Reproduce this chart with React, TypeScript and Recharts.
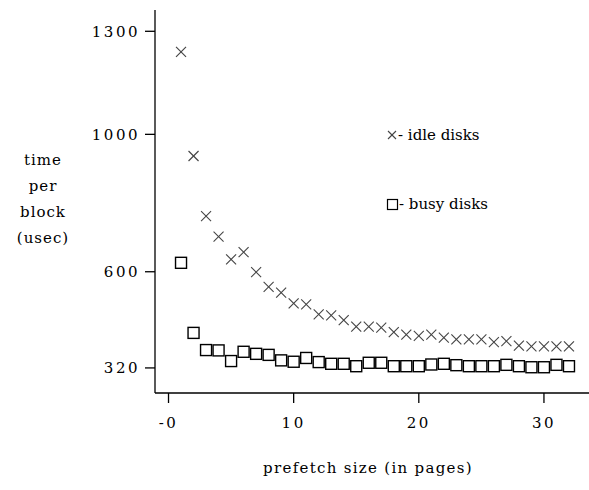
import React from "react";
import { Scatter, ScatterChart, XAxis, YAxis } from "recharts";

const prefetchPages = [
  1, 2, 3, 4, 5, 6, 7, 8, 9, 10, 11, 12, 13, 14, 15, 16, 17, 18, 19, 20, 21,
  22, 23, 24, 25, 26, 27, 28, 29, 30, 31, 32,
];
const idleDisks = [
  1240, 937, 762, 702, 636, 657, 599, 556, 539, 508, 505, 476, 473, 459, 440,
  440, 437, 424, 417, 413, 417, 408, 403, 403, 403, 395, 398, 385, 383, 383,
  383, 383,
];
const busyDisks = [
  626, 422, 372, 371, 340, 367, 361, 358, 342, 338, 349, 337, 332, 332, 325,
  335, 335, 325, 325, 325, 330, 332, 328, 325, 325, 325, 329, 325, 322, 322,
  329, 325,
];
const xTicks = [0, 10, 20, 30];
const yTicks = [320, 600, 1000, 1300];

const idleData = prefetchPages.map((x, i) => ({ x, y: idleDisks[i] }));
const busyData = prefetchPages.map((x, i) => ({ x, y: busyDisks[i] }));

const FONT = "DejaVu Serif";

const Cross = ({ cx, cy }: any) => (
  <g stroke="#444" strokeWidth={1.1}>
    <line x1={cx - 5} y1={cy - 5} x2={cx + 5} y2={cy + 5} />
    <line x1={cx - 5} y1={cy + 5} x2={cx + 5} y2={cy - 5} />
  </g>
);

const Box = ({ cx, cy }: any) => (
  <rect
    x={cx - 5.5}
    y={cy - 5.5}
    width={11}
    height={11}
    fill="#fff"
    stroke="#000"
    strokeWidth={1.4}
  />
);

const YLabel = () => (
  <text
    fontFamily={FONT}
    fontSize={15}
    letterSpacing={1}
    textAnchor="middle"
    fill="#000"
  >
    <tspan x={43} y={165}>time</tspan>
    <tspan x={43} y={191}>per</tspan>
    <tspan x={43} y={217}>block</tspan>
    <tspan x={43} y={243}>(usec)</tspan>
  </text>
);

const XLabel = () => (
  <text
    x={368}
    y={473}
    fontFamily={FONT}
    fontSize={15}
    letterSpacing={1.3}
    textAnchor="middle"
    fill="#000"
  >
    prefetch size (in pages)
  </text>
);

// legend drawn over the plot, not through <Legend> (it would eat plot height)
const LegendBox = () => (
  <div
    style={{
      position: "absolute",
      left: 386,
      top: 125,
      fontFamily: FONT,
      fontSize: 15,
      letterSpacing: 0,
      lineHeight: "20px",
    }}
  >
    <div style={{ display: "flex", alignItems: "center", height: 20 }}>
      <svg width={12} height={12}>
        <g stroke="#444" strokeWidth={1.1}>
          <line x1={2} y1={2} x2={10} y2={10} />
          <line x1={2} y1={10} x2={10} y2={2} />
        </g>
      </svg>
      <span>- idle disks</span>
    </div>
    <div
      style={{ display: "flex", alignItems: "center", height: 20, marginTop: 49 }}
    >
      <svg width={13} height={13}>
        <rect x={1.5} y={1.5} width={10} height={10} fill="#fff" stroke="#000" strokeWidth={1.2} />
      </svg>
      <span>- busy disks</span>
    </div>
  </div>
);

export default function App() {
  return (
    <div style={{ position: "absolute", left: 0, top: 0, background: "#fff" }}>
      <ScatterChart
        width={589}
        height={490}
        margin={{ top: 10, right: 0, bottom: 0, left: 0 }}
      >
        <XAxis
          xAxisId="top"
          orientation="top"
          type="number"
          dataKey="x"
          domain={[-1.08, 33.6]}
          height={0}
          tick={false}
          tickLine={false}
          axisLine={{ stroke: "#000", strokeWidth: 1.3 }}
          allowDataOverflow
        />
        <XAxis
          type="number"
          dataKey="x"
          domain={[-1.08, 33.6]}
          ticks={xTicks}
          tickFormatter={(v) => (v === 0 ? "-0" : String(v))}
          height={97}
          tickSize={10}
          tickMargin={14}
          tickLine={{ stroke: "#000", strokeWidth: 1.3 }}
          axisLine={{ stroke: "#000", strokeWidth: 1.3 }}
          tick={{ fontFamily: FONT, fontSize: 15, fill: "#000", letterSpacing: 2.5 }}
          allowDataOverflow
          label={<XLabel />}
        />
        <YAxis
          type="number"
          dataKey="y"
          domain={[247, 1362]}
          ticks={yTicks}
          width={155}
          tickSize={10}
          tickMargin={5}
          tickLine={{ stroke: "#000", strokeWidth: 1.3 }}
          axisLine={{ stroke: "#000", strokeWidth: 1.3 }}
          tick={{ fontFamily: FONT, fontSize: 15, fill: "#000", letterSpacing: 2.5 }}
          allowDataOverflow
          label={<YLabel />}
        />
        <Scatter
          data={idleData}
          shape={<Cross />}
          isAnimationActive={false}
        />
        <Scatter
          data={busyData}
          shape={<Box />}
          isAnimationActive={false}
        />
      </ScatterChart>
      <LegendBox />
    </div>
  );
}
